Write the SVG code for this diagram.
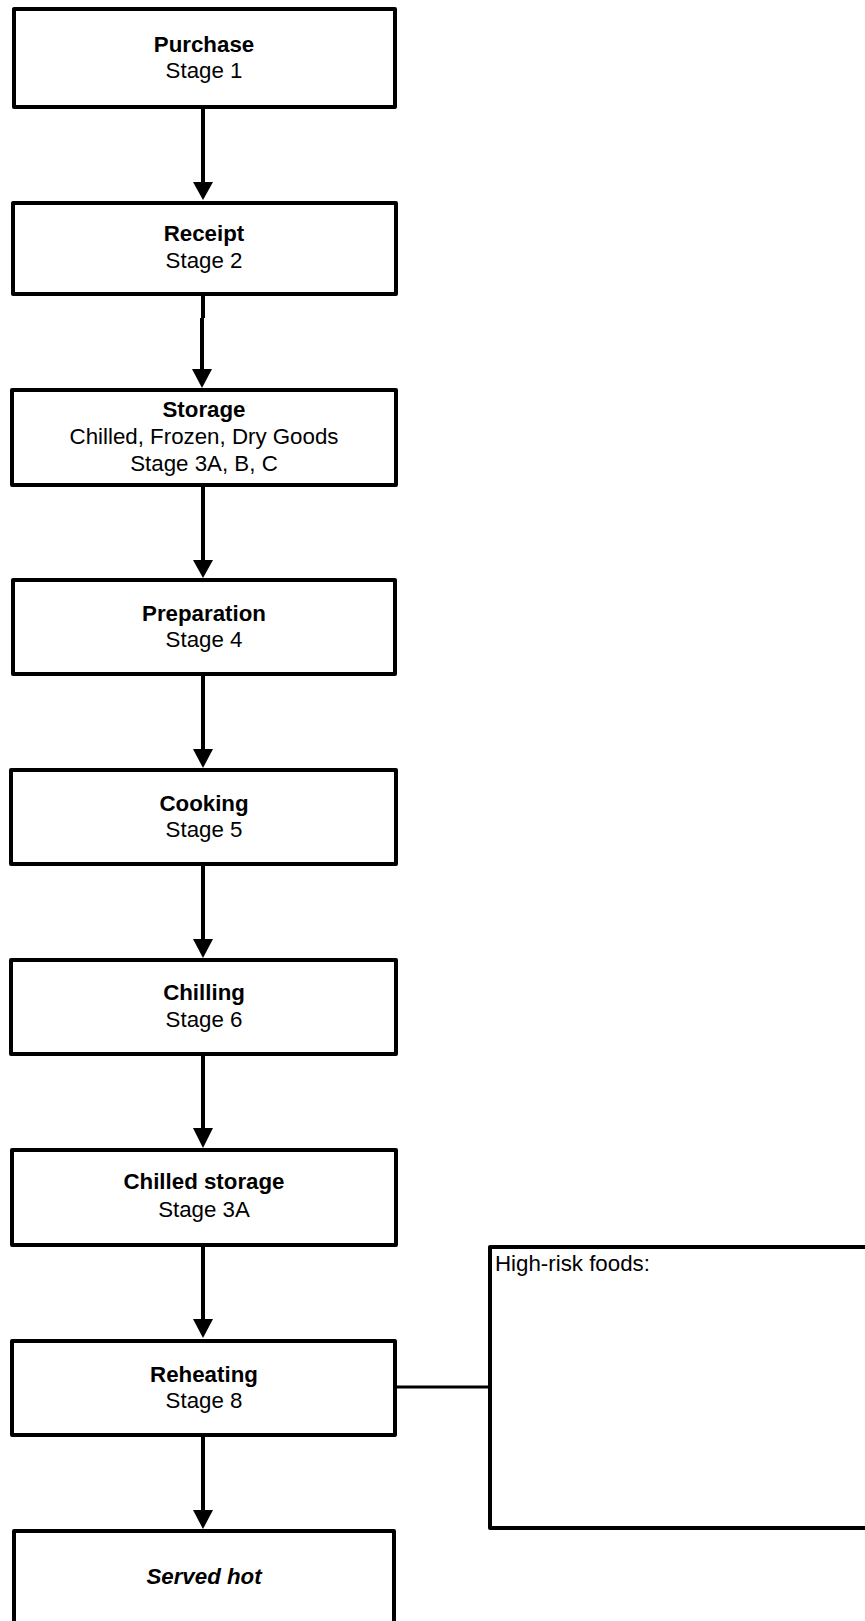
<svg xmlns="http://www.w3.org/2000/svg" width="865" height="1621" viewBox="0 0 865 1621">
<style>
.box{fill:#fff;stroke:#000;stroke-width:4;stroke-linejoin:round}
.t{font-family:"Liberation Sans",Arial,sans-serif;font-size:22.3px;fill:#000;text-anchor:middle}
.b{font-weight:bold}
.conn{stroke:#000;stroke-width:4;fill:none}
.head{fill:#000;stroke:none}
</style>
<rect width="865" height="1621" fill="#fff"/>
<g id="connectors">
<line class="conn" x1="203" y1="109" x2="203" y2="186"/><polygon class="head" points="193,182 213,182 203,200"/>
<line class="conn" x1="203" y1="296" x2="203" y2="318"/><line class="conn" x1="202" y1="318" x2="202" y2="373"/><polygon class="head" points="192,369 212,369 202,388"/>
<line class="conn" x1="203" y1="487" x2="203" y2="564"/><polygon class="head" points="193,560 213,560 203,578"/>
<line class="conn" x1="203" y1="676" x2="203" y2="753"/><polygon class="head" points="193,749 213,749 203,768"/>
<line class="conn" x1="203" y1="866" x2="203" y2="943"/><polygon class="head" points="193,939 213,939 203,958"/>
<line class="conn" x1="203" y1="1056" x2="203" y2="1132"/><polygon class="head" points="193,1128 213,1128 203,1148"/>
<line class="conn" x1="203" y1="1247" x2="203" y2="1323"/><polygon class="head" points="193,1319 213,1319 203,1338"/>
<line class="conn" x1="203" y1="1437" x2="203" y2="1514"/><polygon class="head" points="193,1510 213,1510 203,1529"/>
<line x1="397" y1="1387" x2="490" y2="1387" stroke="#000" stroke-width="3"/>
</g>
<g id="purchase"><rect class="box" x="14" y="9" width="381" height="98"/><text class="t b" x="204" y="52">Purchase</text><text class="t" x="204" y="78">Stage 1</text></g>
<g id="receipt"><rect class="box" x="13" y="203" width="383" height="91"/><text class="t b" x="204" y="241">Receipt</text><text class="t" x="204" y="268">Stage 2</text></g>
<g id="storage"><rect class="box" x="12" y="390" width="384" height="95"/><text class="t b" x="204" y="417">Storage</text><text class="t" x="204" y="444">Chilled, Frozen, Dry Goods</text><text class="t" x="204" y="471">Stage 3A, B, C</text></g>
<g id="preparation"><rect class="box" x="13" y="580" width="382" height="94"/><text class="t b" x="204" y="621">Preparation</text><text class="t" x="204" y="647">Stage 4</text></g>
<g id="cooking"><rect class="box" x="11" y="770" width="385" height="94"/><text class="t b" x="204" y="811">Cooking</text><text class="t" x="204" y="837">Stage 5</text></g>
<g id="chilling"><rect class="box" x="11" y="960" width="385" height="94"/><text class="t b" x="204" y="1000">Chilling</text><text class="t" x="204" y="1027">Stage 6</text></g>
<g id="chilled-storage"><rect class="box" x="12" y="1150" width="384" height="95"/><text class="t b" x="204" y="1189">Chilled storage</text><text class="t" x="204" y="1217">Stage 3A</text></g>
<g id="reheating"><rect class="box" x="12" y="1341" width="383" height="94"/><text class="t b" x="204" y="1382">Reheating</text><text class="t" x="204" y="1408">Stage 8</text></g>
<g id="served-hot"><rect class="box" x="14" y="1531" width="380" height="120"/><text class="t b" x="204" y="1584" font-style="italic">Served hot</text></g>
<g id="high-risk"><rect class="box" x="490" y="1247" width="400" height="281"/><text class="t" x="495" y="1271" style="text-anchor:start">High-risk foods:</text></g>
</svg>
